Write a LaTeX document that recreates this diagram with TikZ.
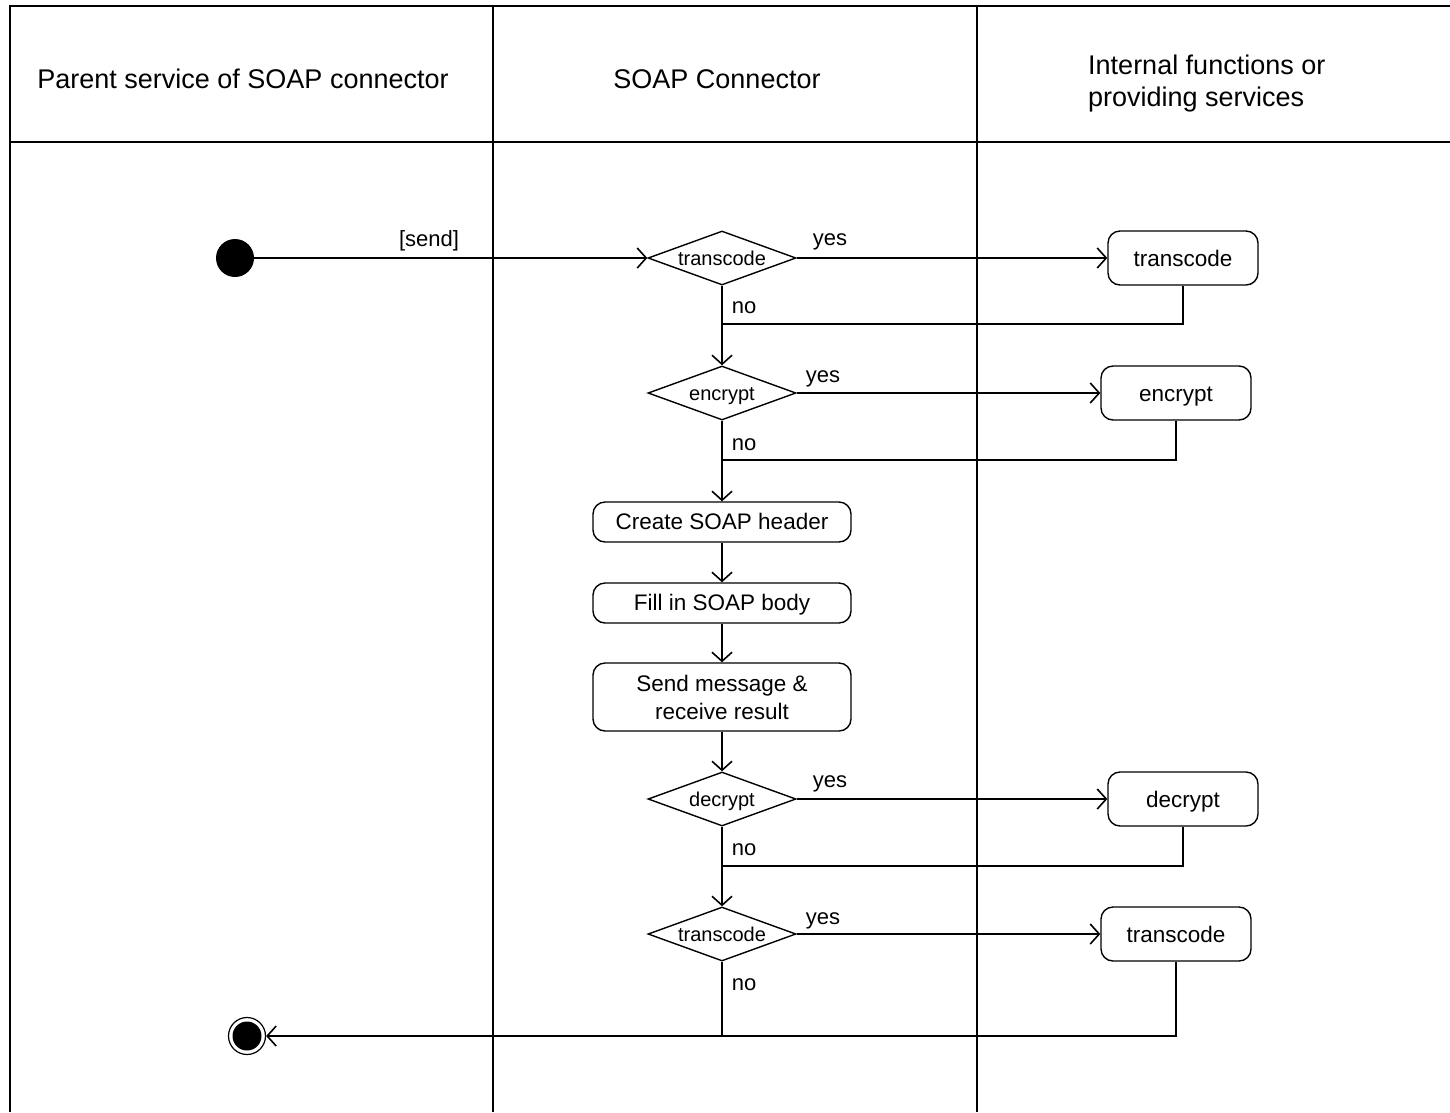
\documentclass[tikz,border=0pt]{standalone}
\usepackage{fontspec}
\setmainfont{Liberation Sans}
\usetikzlibrary{shapes.geometric,arrows.meta}
\begin{document}
\begin{tikzpicture}[x=1pt,y=-1pt,
  lane/.style={line width=1.6pt},
  flow/.style={line width=1.6pt},
  arr/.style={flow,-{Straight Barb[length=9pt,width=20pt,line width=1.6pt]}},
  hdr/.style={font=\fontsize{27}{32}\selectfont},
  act/.style={draw,line width=1.4pt,rounded corners=12pt,minimum width=150pt,minimum height=54pt,inner sep=0pt,text height=17pt,text depth=0pt,font=\fontsize{22.5}{28}\selectfont},
  wide/.style={draw,line width=1.4pt,rounded corners=12pt,minimum width=258pt,inner sep=0pt,align=center,font=\fontsize{22.5}{28}\selectfont},
  dec/.style={draw,diamond,aspect=2.74,line width=1.4pt,minimum width=148pt,minimum height=54pt,inner sep=0pt,text height=15pt,text depth=0pt,font=\fontsize{20}{24}\selectfont},
  lbl/.style={font=\fontsize{22}{26}\selectfont,inner sep=0pt,anchor=base}]
\useasboundingbox (0,0) rectangle (1450,1112);
% swimlanes
\draw[lane] (1450,6) -- (10,6) -- (10,1112);
\draw[lane] (10,142) -- (1450,142);
\draw[lane] (493,6) -- (493,1112);
\draw[lane] (977,6) -- (977,1112);
\node[hdr] (h1) at (243,79) {Parent service of SOAP connector};
\node[hdr] (h2) at (717,79) {SOAP Connector};
\node[hdr,anchor=west,align=left,inner sep=0pt] (h3) at (1088,84) {Internal functions or\\providing services};
% nodes
\node[circle,fill=black,minimum size=38pt,inner sep=0pt] (start) at (235,258) {};
\node[circle,draw,line width=1.2pt,minimum size=37pt,inner sep=0pt] (stop) at (247,1036) {};
\node[circle,fill=black,minimum size=29pt,inner sep=0pt] (stopin) at (247,1036) {};
\node[dec] (d1) at (722,258) {transcode};
\node[dec] (d2) at (722,393) {encrypt};
\node[dec] (d3) at (722,799) {decrypt};
\node[dec] (d4) at (722,934) {transcode};
\node[act] (b1) at (1183,258) {transcode};
\node[act] (b2) at (1176,393) {encrypt};
\node[act] (b3) at (1183,799) {decrypt};
\node[act] (b4) at (1176,934) {transcode};
\node[wide,text height=15pt,text depth=0pt,minimum height=40pt] (c1) at (722,522) {Create SOAP header};
\node[wide,text height=15pt,text depth=0pt,minimum height=40pt] (c2) at (722,603) {Fill in SOAP body};
\node[wide,minimum height=68pt] (c3) at (722,697) {Send message \&\\receive result};
\coordinate (j1) at (722,324);
\coordinate (j2) at (722,460);
\coordinate (j3) at (722,866);
\coordinate (j4) at (722,1036);
% connectors
\draw[arr] (start.east) -- (d1.west);
\draw[arr] (d1.east) -- (b1.west);
\draw[arr] (d1.south) -- (d2.north);
\draw[flow] (b1.south) |- (j1);
\draw[arr] (d2.east) -- (b2.west);
\draw[arr] (d2.south) -- (c1.north);
\draw[flow] (b2.south) |- (j2);
\draw[arr] (c1.south) -- (c2.north);
\draw[arr] (c2.south) -- (c3.north);
\draw[arr] (c3.south) -- (d3.north);
\draw[arr] (d3.east) -- (b3.west);
\draw[arr] (d3.south) -- (d4.north);
\draw[flow] (b3.south) |- (j3);
\draw[arr] (d4.east) -- (b4.west);
\draw[flow] (d4.south) -- (j4);
\draw[arr] (b4.south) |- (stop.east);
% labels
\node[lbl] (ls) at (429,246) {[send]};
\node[lbl] (y1) at (830,245) {yes};
\node[lbl] (n1) at (744,313) {no};
\node[lbl] (y2) at (823,382) {yes};
\node[lbl] (n2) at (744,450) {no};
\node[lbl] (y3) at (830,787) {yes};
\node[lbl] (n3) at (744,855) {no};
\node[lbl] (y4) at (823,924) {yes};
\node[lbl] (n4) at (744,990) {no};
\end{tikzpicture}
\end{document}
